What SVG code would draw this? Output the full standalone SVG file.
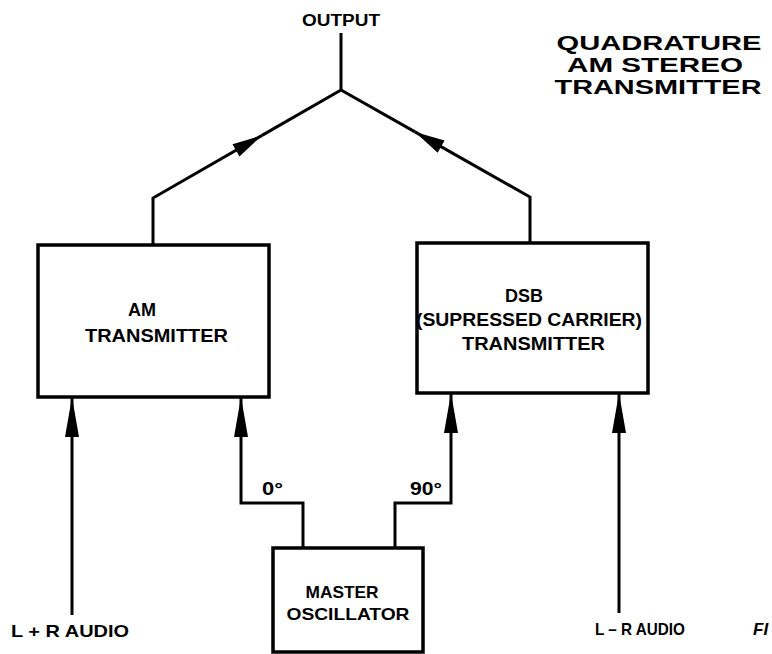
<svg xmlns="http://www.w3.org/2000/svg" width="772" height="654" viewBox="0 0 772 654">
<style>
.box{fill:#fff;stroke:#000;stroke-width:3.5}
.ln{fill:none;stroke:#000;stroke-width:3}
.t{font-family:"Liberation Sans",Arial,sans-serif;font-weight:bold;fill:#000}
.title{font-family:"Liberation Sans",Arial,sans-serif;font-weight:900;fill:#000;font-size:20px}
</style>
<defs>
<marker id="ad" markerUnits="userSpaceOnUse" markerWidth="34" markerHeight="16" refX="30" refY="7" orient="auto" overflow="visible">
<path d="M0,0 L30,7 L0,14 Z" fill="#000"/>
</marker>
<marker id="av" markerUnits="userSpaceOnUse" markerWidth="44" markerHeight="16" refX="40" refY="7" orient="auto" overflow="visible">
<path d="M0,0 L40,7 L0,14 Z" fill="#000"/>
</marker>
</defs>
<rect width="772" height="654" fill="#fff"/>
<g id="title">
<text class="title" x="659" y="50" text-anchor="middle" textLength="205" lengthAdjust="spacingAndGlyphs">QUADRATURE</text>
<text class="title" x="655" y="72" text-anchor="middle" textLength="176" lengthAdjust="spacingAndGlyphs">AM STEREO</text>
<text class="title" x="658" y="94" text-anchor="middle" textLength="207" lengthAdjust="spacingAndGlyphs">TRANSMITTER</text>
</g>
<g id="connectors">
<path class="ln" d="M341,33 V90"/>
<path class="ln" d="M153,245 V198 L262,135.4" marker-end="url(#ad)"/>
<path class="ln" d="M262,135.4 L341,90"/>
<path class="ln" d="M530,243 V197 L415,131.9" marker-end="url(#ad)"/>
<path class="ln" d="M415,131.9 L341,90"/>
<path class="ln" d="M72,615 V397" marker-end="url(#av)"/>
<path class="ln" d="M303,548 V503 H241 V397" marker-end="url(#av)"/>
<path class="ln" d="M395,548 V503 H451 V393" marker-end="url(#av)"/>
<path class="ln" d="M619,613 V393" marker-end="url(#av)"/>
</g>
<g id="output">
<text class="t" x="341" y="26" font-size="16" text-anchor="middle" textLength="78" lengthAdjust="spacingAndGlyphs">OUTPUT</text>
</g>
<g id="am-transmitter">
<rect class="box" x="38" y="245" width="231" height="152"/>
<text class="t" x="142" y="316" font-size="18" text-anchor="middle" textLength="28" lengthAdjust="spacingAndGlyphs">AM</text>
<text class="t" x="156.5" y="342" font-size="18" text-anchor="middle" textLength="143" lengthAdjust="spacingAndGlyphs">TRANSMITTER</text>
</g>
<g id="dsb-transmitter">
<rect class="box" x="417" y="243" width="231" height="150"/>
<text class="t" x="524" y="302" font-size="18" text-anchor="middle" textLength="38" lengthAdjust="spacingAndGlyphs">DSB</text>
<text class="t" x="529" y="326" font-size="18" text-anchor="middle" textLength="226" lengthAdjust="spacingAndGlyphs">(SUPRESSED CARRIER)</text>
<text class="t" x="533.5" y="350" font-size="18" text-anchor="middle" textLength="143" lengthAdjust="spacingAndGlyphs">TRANSMITTER</text>
</g>
<g id="master-oscillator">
<rect class="box" x="273" y="548" width="150" height="104"/>
<text class="t" x="342" y="598" font-size="17" text-anchor="middle" textLength="73" lengthAdjust="spacingAndGlyphs">MASTER</text>
<text class="t" x="348" y="620" font-size="17" text-anchor="middle" textLength="123" lengthAdjust="spacingAndGlyphs">OSCILLATOR</text>
</g>
<g id="labels">
<text class="t" x="262" y="495" font-size="18" textLength="21" lengthAdjust="spacingAndGlyphs">0°</text>
<text class="t" x="410" y="495" font-size="18" textLength="32" lengthAdjust="spacingAndGlyphs">90°</text>
<text class="t" x="11" y="637" font-size="17" textLength="118" lengthAdjust="spacingAndGlyphs">L + R AUDIO</text>
<text class="t" x="595" y="635" font-size="17" textLength="90" lengthAdjust="spacingAndGlyphs">L – R AUDIO</text>
<text class="t" x="753" y="635" font-size="17" font-style="italic">FI</text>
</g>
</svg>
